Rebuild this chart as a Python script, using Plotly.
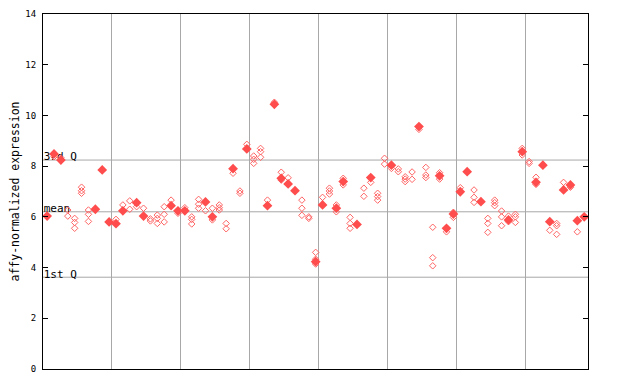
import plotly.graph_objects as go

# per-sample summary value (filled diamond) and replicate values (open diamonds)
filled = [6.03, 8.48, 8.24, None, None, None, None, 6.30, 7.85, 5.80,
          5.73, 6.24, None, 6.56, 6.03, None, None, None, 6.44, 6.24,
          6.24, None, None, 6.59, 6.00, None, None, 7.90, None, 8.68,
          None, None, 6.44, 10.44, 7.52, 7.30, 7.03, None, None, 4.23,
          6.47, None, 6.34, 7.39, None, 5.70, None, 7.55, None, None,
          8.04, None, None, None, 9.56, None, None, 7.62, 5.55, 6.11,
          6.99, 7.78, None, 6.60, None, None, None, 5.88, None, 8.57,
          None, 7.36, 8.04, 5.81, None, 7.06, 7.26, 5.85, 6.00]

replicates = [[], [8.37], [8.33], [6.27, 6.03], [5.94, 5.78, 5.55], [7.17, 7.03, 6.93],
              [6.27, 6.10, 5.82], [], [], [],
              [5.90], [6.47], [6.63, 6.30], [6.40], [6.34], [5.92, 5.84],
              [6.07, 5.94, 5.74], [6.40, 6.10, 5.80], [6.66], [6.14],
              [6.36], [6.00, 5.90, 5.72], [6.69, 6.50, 6.34], [6.24], [6.34, 5.88],
              [6.47, 6.36, 6.27], [5.74, 5.53], [7.72], [7.02, 6.93], [8.86],
              [8.40, 8.27, 8.11], [8.70, 8.57, 8.35], [6.66], [10.52], [7.76, 7.45],
              [7.54], [], [6.66, 6.34, 6.06], [6.00, 5.94], [4.60, 4.33, 4.14],
              [6.77], [7.13, 7.02, 6.90], [6.47, 6.20], [7.52, 7.26], [5.98, 5.74, 5.55],
              [], [7.13, 6.81], [7.36], [6.93, 6.80, 6.66], [8.31, 8.08],
              [7.91], [7.89, 7.78], [7.58, 7.49, 7.39], [7.77, 7.48], [9.45],
              [7.95, 7.65, 7.55], [5.59, 4.39, 4.07], [7.74, 7.49], [5.41], [6.18, 5.98],
              [7.15], [], [7.06, 6.77, 6.57], [], [5.94, 5.74, 5.39],
              [6.66, 6.56, 6.44], [6.23, 6.00, 5.65], [6.03, 5.81], [6.10, 6.00, 5.78], [8.70, 8.44],
              [8.18, 8.11], [7.56, 7.28], [], [5.47], [5.74, 5.65, 5.31],
              [7.36], [7.17], [5.41], []]

quartile_labels = ["3rd Q", "mean", "1st Q"]
quartile_values = [8.24, 6.20, 3.62]
group_breaks = [10, 20, 30, 40, 50, 60, 70]
y_ticks = [0, 2, 4, 6, 8, 10, 12, 14]

n = len(filled)
pos = [i + 0.6 for i in range(n)]

rx, ry = [], []
for i, vals in enumerate(replicates):
    for v in vals:
        rx.append(pos[i])
        ry.append(v)

fx = [pos[i] for i in range(n) if filled[i] is not None]
fy = [v for v in filled if v is not None]

fig = go.Figure()

label_drop = 0.12  # label baseline sits right on its line
for lab, v in zip(quartile_labels, quartile_values):
    fig.add_shape(type="line", xref="paper", x0=0, x1=1, yref="y", y0=v, y1=v,
                  line=dict(color="#a8a8a8", width=1), layer="below")
    fig.add_trace(go.Scatter(x=[0.1], y=[v - label_drop], mode="text", text=[lab],
                             textposition="top right", cliponaxis=False,
                             textfont=dict(family="DejaVu Sans Mono", size=11, color="black"),
                             showlegend=False))

fig.add_trace(go.Scatter(x=rx, y=ry, mode="markers",
                         marker=dict(symbol="diamond-open", size=5,
                                     color="#ff6464", line=dict(width=1, color="#ff6464")),
                         showlegend=False))
fig.add_trace(go.Scatter(x=fx, y=fy, mode="markers",
                         marker=dict(symbol="diamond", size=7.5, color="#ff4c4c",
                                     line=dict(width=0)),
                         showlegend=False))

# page body has an 8px margin, so the figure is offset by 8px
fig.update_layout(
    width=624, height=368,
    margin=dict(l=35, r=44, t=6, b=7, autoexpand=False),
    paper_bgcolor="white", plot_bgcolor="white",
    hovermode=False,
    font=dict(family="DejaVu Sans Mono", size=9, color="black"),
    xaxis=dict(range=[0, 79.15], tickvals=group_breaks, showticklabels=False,
               ticks="", showgrid=True, gridcolor="#a8a8a8", gridwidth=1,
               showline=True, linecolor="black", linewidth=1, mirror=True,
               zeroline=False, fixedrange=True, automargin=False),
    yaxis=dict(range=[0, 14], tickvals=y_ticks, ticks="inside", ticklen=5,
               tickcolor="black", showgrid=False, zeroline=False,
               showline=True, linecolor="black", linewidth=1, mirror="ticks",
               ticklabelstandoff=4, automargin=False,
               title=dict(text="affy-normalized expression",
                          font=dict(family="DejaVu Sans Mono", size=11.5), standoff=16),
               fixedrange=True),
)

fig.write_html("out.html", config={"displayModeBar": False})
